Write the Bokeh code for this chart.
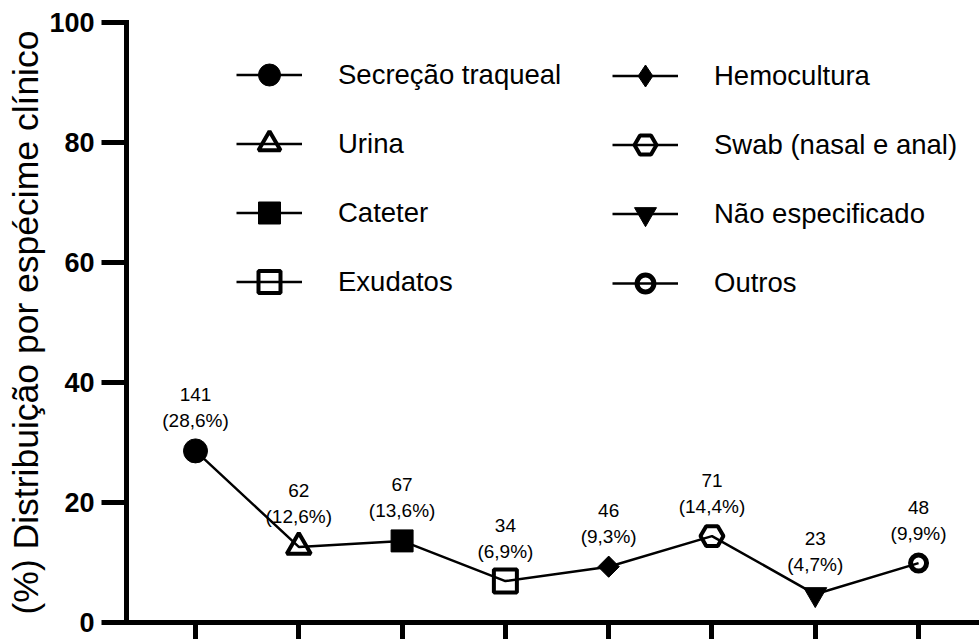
import math
from bokeh.plotting import figure
from bokeh.models import Range1d, FixedTicker, Legend, LegendItem, ColumnDataSource
from bokeh.embed import file_html
from bokeh.resources import INLINE
from bokeh.core.properties import value

categories = ["Secreção traqueal", "Urina", "Cateter", "Exudatos",
              "Hemocultura", "Swab (nasal e anal)", "Não especificado", "Outros"]
counts = [141, 62, 67, 34, 46, 71, 23, 48]
percents = [28.6, 12.6, 13.6, 6.9, 9.3, 14.4, 4.7, 9.9]
positions = [1, 2, 3, 4, 5, 6, 7, 8]
y_ticks = [0, 20, 40, 60, 80, 100]
y_label = "(%) Distribuição por espécime clínico"

count_labels = [str(c) for c in counts]
pct_labels = ["(" + f"{v:.1f}".replace(".", ",") + "%)" for v in percents]

FONT = "Liberation Sans"

p = figure(width=979, height=639, output_backend="svg", toolbar_location=None,
           x_range=Range1d(0.332, 8.59), y_range=Range1d(0, 100),
           min_border_left=126, min_border_right=0, min_border_top=22,
           min_border_bottom=17)
p.outline_line_color = None
p.grid.visible = False
p.background_fill_color = "white"

# axes
for ax in (p.xaxis, p.yaxis):
    ax.axis_line_width = 5
    ax.axis_line_color = "black"
    ax.axis_line_cap = "square"
    ax.major_tick_line_width = 5
    ax.major_tick_line_color = "black"
    ax.major_tick_in = 0
    ax.minor_tick_line_color = None

p.xaxis.ticker = FixedTicker(ticks=positions)
p.xaxis.major_tick_out = 17
p.xaxis.major_label_text_font_size = "1px"
p.xaxis.major_label_text_color = None
p.xaxis.major_label_standoff = 0

p.yaxis.ticker = FixedTicker(ticks=y_ticks)
p.yaxis.major_tick_out = 25
p.yaxis.major_label_standoff = 7
p.yaxis.major_label_text_font = FONT
p.yaxis.major_label_text_font_style = "bold"
p.yaxis.major_label_text_font_size = "27px"
p.yaxis.major_label_text_color = "black"
p.yaxis.axis_label = y_label
p.yaxis.axis_label_text_font = FONT
p.yaxis.axis_label_text_font_style = "normal"
p.yaxis.axis_label_text_font_size = "35.5px"
p.yaxis.axis_label_text_color = "black"
p.yaxis.axis_label_standoff = 0

# connecting line
p.line(x=positions, y=percents, line_color="black", line_width=2.5)

styles = [
    dict(marker="circle", size=24, fill_color="black", line_color="black", line_width=1),
    dict(marker="triangle", size=24, fill_color=None, line_color="black", line_width=4),
    dict(marker="square", size=22, fill_color="black", line_color="black", line_width=1),
    dict(marker="square", size=23, fill_color=None, line_color="black", line_width=4),
    dict(marker="square", size=15, angle=math.pi / 4, fill_color="black", line_color="black", line_width=1),
    dict(marker="hex", size=23, fill_color=None, line_color="black", line_width=4),
    dict(marker="inverted_triangle", size=23, fill_color="black", line_color="black", line_width=1),
    dict(marker="circle", size=16, fill_color=None, line_color="black", line_width=5),
]

renderers = []
line_renderers = []
for i, cat in enumerate(categories):
    src = ColumnDataSource(dict(x=[positions[i]], y=[percents[i]]))
    # single-point line: invisible in the plot, gives the legend its line
    lr = p.line(x="x", y="y", source=src, line_color="black", line_width=2.5)
    line_renderers.append(lr)
    if i == 4:
        # diamond glyph for the legend, hidden beneath the rotated square
        leg_diamond = p.scatter(x="x", y="y", source=src, marker="diamond", size=20,
                                fill_color="black", line_color="black", line_width=1)
    r = p.scatter(x="x", y="y", source=src, **styles[i])
    renderers.append(r)

# data labels
lab_src = ColumnDataSource(dict(x=positions, y=percents, c=count_labels, pc=pct_labels))
p.text(x="x", y="y", text="c", source=lab_src, y_offset=-56,
       text_align="center", text_baseline="middle",
       text_font=value(FONT), text_font_size="19px", text_color="black")
p.text(x="x", y="y", text="pc", source=lab_src, y_offset=-30,
       text_align="center", text_baseline="middle",
       text_font=value(FONT), text_font_size="19px", text_color="black")


def make_legend(idx, loc, gh, rend_override=None):
    items = []
    for i in idx:
        rr = renderers[i]
        if rend_override and i in rend_override:
            rr = rend_override[i]
        items.append(LegendItem(label=categories[i], renderers=[line_renderers[i], rr]))
    lg = Legend(items=items, location=loc, orientation="vertical",
                glyph_width=66, glyph_height=gh, spacing=69 - gh if gh == 55 else 0,
                label_standoff=36, padding=0, margin=0,
                border_line_color=None, background_fill_alpha=0,
                label_text_font=FONT, label_text_font_size="27.5px",
                label_text_color="black")
    return lg

p.add_layout(make_legend([0, 1, 2, 3], (110, 313), 55))
p.add_layout(make_legend([4, 5, 6], (486, 381), 55, {4: leg_diamond}))
p.add_layout(make_legend([7], (486, 318), 42))

open("out.html", "w").write(file_html(p, INLINE))
